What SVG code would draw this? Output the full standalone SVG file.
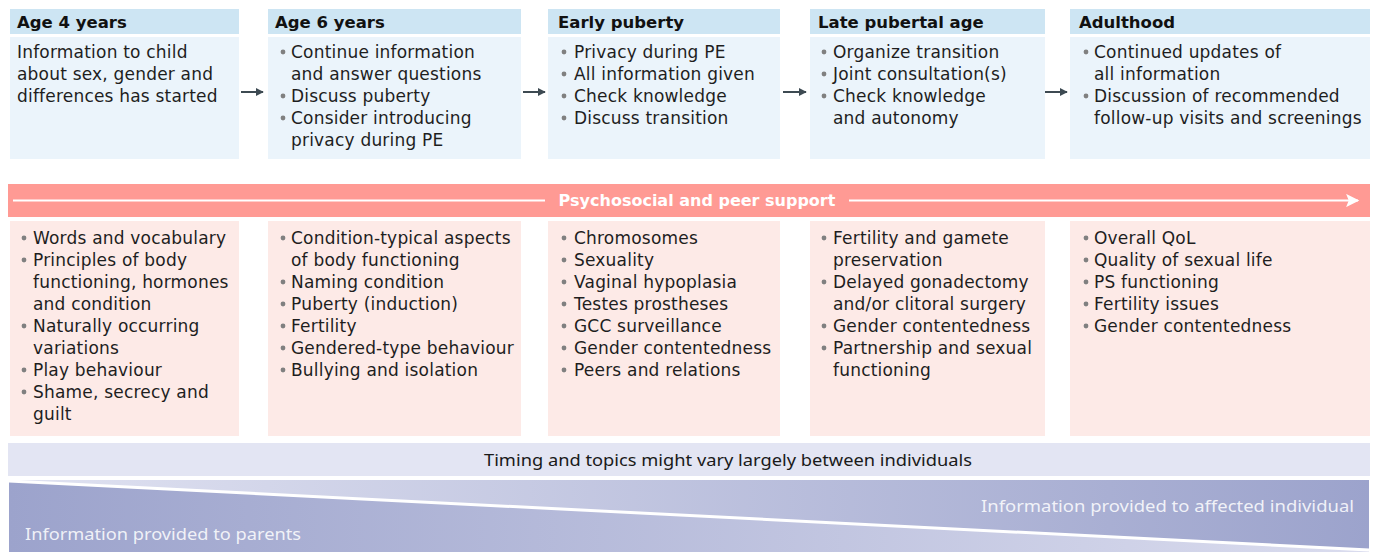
<svg xmlns="http://www.w3.org/2000/svg" width="1375" height="552" viewBox="0 0 1375 552">
  <style>
    .hdr { fill: #cde5f3; }
    .body { fill: #ebf4fb; }
    .topic { fill: #fdeae7; }
    .h { font-family: "DejaVu Sans", "Noto Sans", sans-serif; font-weight: 700; font-size: 16.5px; fill: #111; }
    .t { font-family: "DejaVu Sans", "Noto Sans", sans-serif; font-size: 17px; letter-spacing: 0.2px; fill: #1e1e1e; }
    .dot { fill: #808080; }
    .band { font-family: "DejaVu Sans", "Noto Sans", sans-serif; font-weight: 700; font-size: 16px; fill: #fff; }
    .cond { font-family: "Noto Sans", "Open Sans", sans-serif; font-size: 16px; }
    .conn { stroke: #3d4a52; stroke-width: 2; fill: none; }
  </style>
  <defs>
    <marker id="ah" viewBox="0 0 10 10" refX="9" refY="5" markerWidth="4" markerHeight="4" orient="auto" markerUnits="strokeWidth">
      <path d="M0,0 L10,5 L0,10 Z" fill="#3d4a52"/>
    </marker>
    <marker id="ahw" viewBox="0 0 10 10" refX="9" refY="5" markerWidth="7" markerHeight="6" orient="auto" markerUnits="strokeWidth">
      <path d="M0,0 L10,5 L0,10 L2,5 Z" fill="#fff"/>
    </marker>
    <linearGradient id="gUp" x1="0" y1="0" x2="1" y2="0">
      <stop offset="0" stop-color="#e0e2f1"/>
      <stop offset="1" stop-color="#9ca3cc"/>
    </linearGradient>
    <linearGradient id="gLow" x1="0" y1="0" x2="1" y2="0">
      <stop offset="0" stop-color="#9ca3cc"/>
      <stop offset="1" stop-color="#dadcee"/>
    </linearGradient>
  </defs>

  <!-- Stage 1: Age 4 years -->
  <g id="stage-age4">
    <rect class="hdr" x="10" y="9" width="229" height="25"/>
    <rect class="body" x="10" y="37" width="229" height="122"/>
    <text class="h" x="17" y="28">Age 4 years</text>
    <text class="t" x="17" y="58">Information to child</text>
    <text class="t" x="17" y="80">about sex, gender and</text>
    <text class="t" x="17" y="102">differences has started</text>
  </g>

  <!-- Stage 2: Age 6 years -->
  <g id="stage-age6">
    <rect class="hdr" x="268" y="9" width="253" height="25"/>
    <rect class="body" x="268" y="37" width="253" height="122"/>
    <text class="h" x="275" y="28">Age 6 years</text>
    <circle class="dot" cx="283" cy="52" r="2.4"/>
    <text class="t" x="291" y="58">Continue information</text>
    <text class="t" x="291" y="80">and answer questions</text>
    <circle class="dot" cx="283" cy="96" r="2.4"/>
    <text class="t" x="291" y="102">Discuss puberty</text>
    <circle class="dot" cx="283" cy="118" r="2.4"/>
    <text class="t" x="291" y="124">Consider introducing</text>
    <text class="t" x="291" y="146">privacy during PE</text>
  </g>

  <!-- Stage 3: Early puberty -->
  <g id="stage-early-puberty">
    <rect class="hdr" x="548" y="9" width="232" height="25"/>
    <rect class="body" x="548" y="37" width="232" height="122"/>
    <text class="h" x="558" y="28">Early puberty</text>
    <circle class="dot" cx="564" cy="52" r="2.4"/>
    <text class="t" x="574" y="58">Privacy during PE</text>
    <circle class="dot" cx="564" cy="74" r="2.4"/>
    <text class="t" x="574" y="80">All information given</text>
    <circle class="dot" cx="564" cy="96" r="2.4"/>
    <text class="t" x="574" y="102">Check knowledge</text>
    <circle class="dot" cx="564" cy="118" r="2.4"/>
    <text class="t" x="574" y="124">Discuss transition</text>
  </g>

  <!-- Stage 4: Late pubertal age -->
  <g id="stage-late-puberty">
    <rect class="hdr" x="810" y="9" width="235" height="25"/>
    <rect class="body" x="810" y="37" width="235" height="122"/>
    <text class="h" x="818" y="28">Late pubertal age</text>
    <circle class="dot" cx="824" cy="52" r="2.4"/>
    <text class="t" x="833" y="58">Organize transition</text>
    <circle class="dot" cx="824" cy="74" r="2.4"/>
    <text class="t" x="833" y="80">Joint consultation(s)</text>
    <circle class="dot" cx="824" cy="96" r="2.4"/>
    <text class="t" x="833" y="102">Check knowledge</text>
    <text class="t" x="833" y="124">and autonomy</text>
  </g>

  <!-- Stage 5: Adulthood -->
  <g id="stage-adulthood">
    <rect class="hdr" x="1070" y="9" width="300" height="25"/>
    <rect class="body" x="1070" y="37" width="300" height="122"/>
    <text class="h" x="1079" y="28">Adulthood</text>
    <circle class="dot" cx="1086" cy="52" r="2.4"/>
    <text class="t" x="1094" y="58">Continued updates of</text>
    <text class="t" x="1094" y="80">all information</text>
    <circle class="dot" cx="1086" cy="96" r="2.4"/>
    <text class="t" x="1094" y="102">Discussion of recommended</text>
    <text class="t" x="1094" y="124">follow-up visits and screenings</text>
  </g>

  <!-- Stage-to-stage arrows -->
  <g id="connectors">
    <line class="conn" x1="241" y1="92" x2="263" y2="92" marker-end="url(#ah)"/>
    <line class="conn" x1="523" y1="92" x2="545" y2="92" marker-end="url(#ah)"/>
    <line class="conn" x1="783" y1="92" x2="806" y2="92" marker-end="url(#ah)"/>
    <line class="conn" x1="1045" y1="92" x2="1067" y2="92" marker-end="url(#ah)"/>
  </g>

  <!-- Psychosocial support band -->
  <g id="support-band">
    <rect x="8" y="184" width="1362" height="33" fill="#ff9a94"/>
    <line x1="13" y1="200.5" x2="545" y2="200.5" stroke="#fff" stroke-width="2.2"/>
    <line x1="849" y1="200.5" x2="1358" y2="200.5" stroke="#fff" stroke-width="2.2" marker-end="url(#ahw)"/>
    <text class="band" x="697" y="206" text-anchor="middle">Psychosocial and peer support</text>
  </g>

  <!-- Topic boxes -->
  <g id="topics-age4">
    <rect class="topic" x="10" y="221" width="229" height="215"/>
    <circle class="dot" cx="24" cy="238" r="2.4"/>
    <text class="t" x="33" y="244">Words and vocabulary</text>
    <circle class="dot" cx="24" cy="260" r="2.4"/>
    <text class="t" x="33" y="266">Principles of body</text>
    <text class="t" x="33" y="288">functioning, hormones</text>
    <text class="t" x="33" y="310">and condition</text>
    <circle class="dot" cx="24" cy="326" r="2.4"/>
    <text class="t" x="33" y="332">Naturally occurring</text>
    <text class="t" x="33" y="354">variations</text>
    <circle class="dot" cx="24" cy="370" r="2.4"/>
    <text class="t" x="33" y="376">Play behaviour</text>
    <circle class="dot" cx="24" cy="392" r="2.4"/>
    <text class="t" x="33" y="398">Shame, secrecy and</text>
    <text class="t" x="33" y="420">guilt</text>
  </g>

  <g id="topics-age6">
    <rect class="topic" x="268" y="221" width="253" height="215"/>
    <circle class="dot" cx="283" cy="238" r="2.4"/>
    <text class="t" x="291" y="244">Condition-typical aspects</text>
    <text class="t" x="291" y="266">of body functioning</text>
    <circle class="dot" cx="283" cy="282" r="2.4"/>
    <text class="t" x="291" y="288">Naming condition</text>
    <circle class="dot" cx="283" cy="304" r="2.4"/>
    <text class="t" x="291" y="310">Puberty (induction)</text>
    <circle class="dot" cx="283" cy="326" r="2.4"/>
    <text class="t" x="291" y="332">Fertility</text>
    <circle class="dot" cx="283" cy="348" r="2.4"/>
    <text class="t" x="291" y="354">Gendered-type behaviour</text>
    <circle class="dot" cx="283" cy="370" r="2.4"/>
    <text class="t" x="291" y="376">Bullying and isolation</text>
  </g>

  <g id="topics-early-puberty">
    <rect class="topic" x="548" y="221" width="232" height="215"/>
    <circle class="dot" cx="564" cy="238" r="2.4"/>
    <text class="t" x="574" y="244">Chromosomes</text>
    <circle class="dot" cx="564" cy="260" r="2.4"/>
    <text class="t" x="574" y="266">Sexuality</text>
    <circle class="dot" cx="564" cy="282" r="2.4"/>
    <text class="t" x="574" y="288">Vaginal hypoplasia</text>
    <circle class="dot" cx="564" cy="304" r="2.4"/>
    <text class="t" x="574" y="310">Testes prostheses</text>
    <circle class="dot" cx="564" cy="326" r="2.4"/>
    <text class="t" x="574" y="332">GCC surveillance</text>
    <circle class="dot" cx="564" cy="348" r="2.4"/>
    <text class="t" x="574" y="354">Gender contentedness</text>
    <circle class="dot" cx="564" cy="370" r="2.4"/>
    <text class="t" x="574" y="376">Peers and relations</text>
  </g>

  <g id="topics-late-puberty">
    <rect class="topic" x="810" y="221" width="235" height="215"/>
    <circle class="dot" cx="824" cy="238" r="2.4"/>
    <text class="t" x="833" y="244">Fertility and gamete</text>
    <text class="t" x="833" y="266">preservation</text>
    <circle class="dot" cx="824" cy="282" r="2.4"/>
    <text class="t" x="833" y="288">Delayed gonadectomy</text>
    <text class="t" x="833" y="310">and/or clitoral surgery</text>
    <circle class="dot" cx="824" cy="326" r="2.4"/>
    <text class="t" x="833" y="332">Gender contentedness</text>
    <circle class="dot" cx="824" cy="348" r="2.4"/>
    <text class="t" x="833" y="354">Partnership and sexual</text>
    <text class="t" x="833" y="376">functioning</text>
  </g>

  <g id="topics-adulthood">
    <rect class="topic" x="1070" y="221" width="300" height="215"/>
    <circle class="dot" cx="1086" cy="238" r="2.4"/>
    <text class="t" x="1094" y="244">Overall QoL</text>
    <circle class="dot" cx="1086" cy="260" r="2.4"/>
    <text class="t" x="1094" y="266">Quality of sexual life</text>
    <circle class="dot" cx="1086" cy="282" r="2.4"/>
    <text class="t" x="1094" y="288">PS functioning</text>
    <circle class="dot" cx="1086" cy="304" r="2.4"/>
    <text class="t" x="1094" y="310">Fertility issues</text>
    <circle class="dot" cx="1086" cy="326" r="2.4"/>
    <text class="t" x="1094" y="332">Gender contentedness</text>
  </g>

  <!-- Timing note -->
  <g id="timing-note">
    <rect x="8" y="443" width="1362" height="33" fill="#e3e5f3"/>
    <text class="cond" x="728" y="466" text-anchor="middle" fill="#1a1a1a" textLength="488" lengthAdjust="spacingAndGlyphs">Timing and topics might vary largely between individuals</text>
  </g>

  <!-- Audience wedge: parents vs affected individual -->
  <g id="audience-wedge">
    <rect x="9" y="480" width="1360" height="72" fill="url(#gUp)"/>
    <polygon points="9,481 1369,550 1369,552 9,552" fill="url(#gLow)"/>
    <line x1="9" y1="481" x2="1369" y2="550" stroke="#fff" stroke-width="3"/>
    <text class="cond" x="25" y="540" fill="#fff" fill-opacity="0.85" textLength="276" lengthAdjust="spacingAndGlyphs">Information provided to parents</text>
    <text class="cond" x="1354" y="512" text-anchor="end" fill="#fff" fill-opacity="0.85" textLength="373" lengthAdjust="spacingAndGlyphs">Information provided to affected individual</text>
  </g>
</svg>
